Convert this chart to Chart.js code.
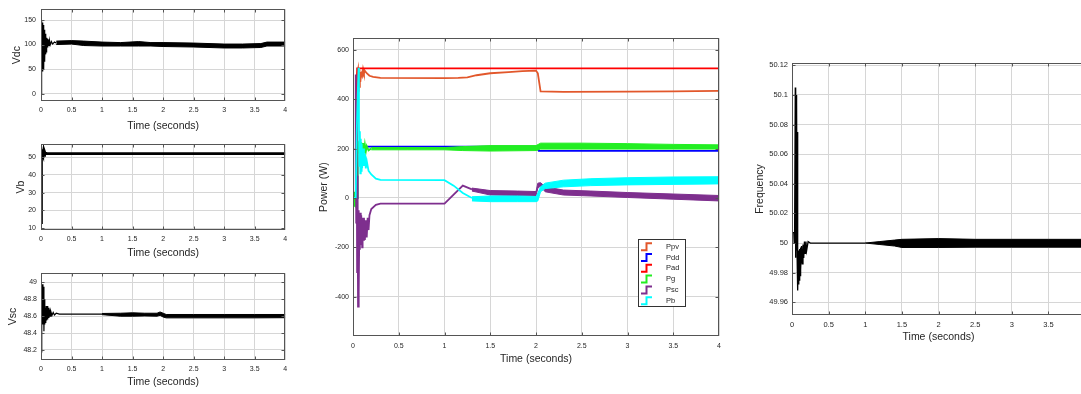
<!DOCTYPE html>
<html><head><meta charset="utf-8">
<script src="https://cdn.jsdelivr.net/npm/chart.js@4.4.1/dist/chart.umd.min.js"></script>
<style>
html,body{margin:0;padding:0;background:#fff;overflow:hidden;width:1081px;height:394px;position:relative}
canvas{position:absolute}
</style></head><body>
<canvas id="cVdc"></canvas>
<canvas id="cVb"></canvas>
<canvas id="cVsc"></canvas>
<canvas id="cPow"></canvas>
<canvas id="cFreq"></canvas>
<script>
// ---------------- DATA ----------------
const timeTicks = [0, 0.5, 1, 1.5, 2, 2.5, 3, 3.5, 4];
const vdcTicks = [0, 50, 100, 150];
const vbTicks = [10, 20, 30, 40, 50];
const vscTicks = [48.2, 48.4, 48.6, 48.8, 49];
const powerTicks = [-400, -200, 0, 200, 400, 600];
const freqTicks = [49.96, 49.98, 50, 50.02, 50.04, 50.06, 50.08, 50.1, 50.12];

// Vdc
const vdcTime  = [0, 0.004, 0.008, 0.012, 0.016, 0.02, 0.024, 0.028, 0.032, 0.036, 0.04, 0.044, 0.048, 0.052, 0.056, 0.06, 0.065, 0.07, 0.075, 0.08, 0.085, 0.09, 0.095, 0.1, 0.11, 0.12, 0.13, 0.14, 0.15, 0.17, 0.19, 0.22, 0.25];
const vdcValue = [0, 150, 5, 148, 40, 145, 48, 142, 45, 140, 55, 135, 50, 130, 65, 126, 70, 122, 80, 118, 85, 114, 90, 112, 94, 110, 97, 108, 99, 106, 101, 105, 103];
const vdcBandTime = [0.25, 0.5, 0.7, 1.0, 1.3, 1.6, 1.8, 2.0, 2.5, 3.0, 3.3, 3.6, 3.7, 4.0];
const vdcBandHigh = [107, 108, 107, 105, 104, 106, 104, 104, 103, 101, 101, 102, 105, 105];
const vdcBandLow  = [100, 101, 98, 97, 97, 97, 97, 96, 95, 93, 93, 94, 97, 97];

// Vb
const vbTime  = [0, 0.006, 0.012, 0.02, 0.03, 0.04, 0.05, 0.06, 0.07, 0.08, 0.1, 4.0];
const vbValue = [13, 51, 51.5, 52.5, 51.5, 53.5, 51, 53, 52, 52.2, 52, 52];

// Vsc
const vscTime  = [0, 0.008, 0.016, 0.025, 0.032, 0.04, 0.048, 0.055, 0.062, 0.07, 0.078, 0.085, 0.093, 0.1, 0.11, 0.12, 0.13, 0.14, 0.15, 0.16, 0.18, 0.2, 0.22, 0.25, 0.3, 1.0];
const vscValue = [48.6, 48.17, 48.55, 48.98, 48.5, 48.95, 48.42, 48.8, 48.5, 48.7, 48.52, 48.72, 48.55, 48.72, 48.56, 48.7, 48.58, 48.68, 48.6, 48.66, 48.61, 48.645, 48.615, 48.635, 48.625, 48.625];
const vscBandTime = [1.0, 1.3, 1.5, 1.7, 1.9, 1.95, 2.0, 2.05, 2.5, 3.0, 3.5, 4.0];
const vscBandHigh = [48.632, 48.635, 48.64, 48.635, 48.635, 48.65, 48.635, 48.62, 48.62, 48.62, 48.62, 48.62];
const vscBandLow  = [48.618, 48.6, 48.6, 48.603, 48.6, 48.61, 48.59, 48.58, 48.58, 48.58, 48.58, 48.582];

// Power
const powerLabels = ['Ppv', 'Pdd', 'Pad', 'Pg', 'Psc', 'Pb'];
const ppvTime  = [0, 0.04, 0.045, 0.055, 0.06, 0.065, 0.07, 0.075, 0.08, 0.09, 0.1, 0.11, 0.12, 0.13, 0.15, 0.18, 0.22, 0.3, 1.0, 1.15, 1.25, 1.35, 1.5, 1.7, 1.85, 2.0, 2.02, 2.05, 2.3, 3.0, 3.5, 4.0];
const ppvValue = [0, 0, 500, 520, 430, 515, 450, 510, 470, 505, 495, 522, 505, 515, 505, 495, 490, 486, 485, 486, 488, 497, 505, 510, 514, 516, 505, 432, 430, 431, 432, 434];
const pddTime  = [0, 0.045, 0.05, 0.1, 0.15, 2.0, 2.03, 4.0];
const pddValue = [0, 0, 210, 205, 208, 208, 191, 191];
const padTime  = [0, 0.04, 0.045, 4.0];
const padValue = [0, 0, 525, 525];
const pgTime  = [0, 0.01, 0.02, 0.03, 0.04, 0.045, 0.05, 0.06, 0.07, 0.08, 0.09, 0.1, 0.11, 0.12, 0.13, 0.14, 0.15, 0.17, 0.2];
const pgValue = [0, -35, 25, -38, 20, 0, 230, 180, 232, 178, 225, 180, 222, 182, 215, 188, 210, 193, 200];
const pgBandTime = [0.2, 0.6, 1.0, 1.2, 1.5, 2.0, 2.05, 2.5, 3.0, 3.5, 4.0];
const pgBandHigh = [204, 204, 204, 208, 212, 212, 222, 222, 220, 217, 215];
const pgBandLow  = [195, 195, 195, 192, 190, 192, 198, 198, 198, 198, 198];
const pscTime  = [0, 0.025, 0.03, 0.035, 0.04, 0.045, 0.05, 0.055, 0.06, 0.065, 0.07, 0.075, 0.08, 0.085, 0.09, 0.1, 0.105, 0.11, 0.12, 0.13, 0.14, 0.15, 0.16, 0.17, 0.18, 0.2, 0.25, 0.3, 1.0, 1.2, 1.3];
const pscValue = [0, 0, 500, -100, 300, -300, 90, -440, -50, -380, -100, -210, -60, -190, -70, -200, -80, -170, -80, -170, -90, -160, -80, -130, -70, -45, -28, -23, -23, 50, 35];
const pscBandTime = [1.3, 1.5, 1.8, 2.0, 2.02, 2.05, 2.1, 2.3, 2.6, 3.0, 3.5, 4.0];
const pscBandHigh = [40, 30, 28, 26, 60, 62, 45, 32, 28, 22, 16, 10];
const pscBandLow  = [28, 12, 10, 8, 40, 48, 25, 12, 8, 2, -5, -12];
const pbTime  = [0, 0.03, 0.04, 0.05, 0.06, 0.065, 0.07, 0.075, 0.08, 0.085, 0.09, 0.095, 0.1, 0.11, 0.12, 0.13, 0.14, 0.15, 0.17, 0.2, 0.25, 0.3, 1.0, 1.1, 1.2, 1.3];
const pbValue = [0, 0, 250, 400, 527, 300, 130, 270, 100, 240, 110, 220, 120, 200, 130, 180, 120, 150, 110, 95, 78, 73, 72, 50, 20, 0];
const pbBandTime = [1.3, 1.5, 1.8, 2.0, 2.02, 2.05, 2.1, 2.3, 2.6, 3.0, 3.5, 4.0];
const pbBandHigh = [5, 8, 8, 6, 20, 45, 60, 72, 78, 82, 85, 86];
const pbBandLow  = [-12, -15, -15, -15, -12, 25, 38, 45, 50, 53, 55, 57];

// Frequency
const freqTime  = [0, 0.01, 0.03, 0.035, 0.045, 0.05, 0.055, 0.06, 0.065, 0.07, 0.075, 0.08, 0.085, 0.09, 0.095, 0.1, 0.105, 0.11, 0.115, 0.12, 0.13, 0.14, 0.15, 0.16, 0.17, 0.18, 0.19, 0.2, 0.22, 0.25, 1.0];
const freqValue = [50, 50.007, 50.007, 50.0, 50.105, 49.99, 50.1, 49.995, 50.095, 49.99, 50.075, 49.968, 49.995, 49.972, 49.995, 49.975, 49.996, 49.978, 49.997, 49.982, 49.998, 49.986, 49.999, 49.99, 50.001, 49.993, 50.001, 49.995, 50.001, 50.0, 50.0];
const freqBandTime = [1.0, 1.2, 1.4, 1.5, 2.0, 2.5, 3.0, 3.5, 4.0];
const freqBandHigh = [50.0, 50.001, 50.002, 50.0025, 50.003, 50.0025, 50.0025, 50.0025, 50.0025];
const freqBandLow  = [50.0, 49.999, 49.998, 49.997, 49.997, 49.9972, 49.9972, 49.9972, 49.9972];

// ---------------- STYLE ----------------
const FONT = '"Liberation Sans", Arial, Helvetica, sans-serif';
const TEXT = '#262626';
const GRID = '#d6d6d6';
const BOX = '#555555';
const COL = {Ppv: '#e2572b', Pdd: '#0000ff', Pad: '#ff0000', Pg: '#22ee22', Psc: '#7e2f8e', Pb: '#00ffff'};

function pts(t, v) { return t.map((x, i) => ({x: x, y: v[i]})); }
function lineDs(label, t, v, color, width, order) {
  return {label, data: pts(t, v), borderColor: color, backgroundColor: color, borderWidth: width,
          pointRadius: 0, fill: false, tension: 0, order: order || 0, borderJoinStyle: 'miter'};
}
function bandDs(label, t, hi, lo, color, order) {
  return [
    {label: label, data: pts(t, hi), borderColor: color, borderWidth: 1, pointRadius: 0, fill: false, tension: 0, order: order || 0},
    {label: label, data: pts(t, lo), borderColor: color, backgroundColor: color, borderWidth: 1, pointRadius: 0, fill: '-1', tension: 0, order: order || 0}
  ];
}
function fmt(v) { return String(Math.round(v * 1000) / 1000); }

const boxPlugin = {
  id: 'matlabBox',
  afterDatasetsDraw(chart) {
    const {ctx, chartArea: a, scales} = chart;
    const L = Math.round(a.left) + 0.5, T = Math.round(a.top) + 0.5;
    const R = Math.round(a.right) - 0.5, B = Math.round(a.bottom) - 0.5;
    ctx.save();
    ctx.strokeStyle = BOX; ctx.lineWidth = 1;
    ctx.strokeRect(L, T, R - L, B - T);
    ctx.beginPath();
    scales.x.ticks.forEach(tk => {
      const p = Math.round(scales.x.getPixelForValue(tk.value)) + 0.5;
      if (p < L || p > R) return;
      ctx.moveTo(p, B); ctx.lineTo(p, B - 3);
      ctx.moveTo(p, T); ctx.lineTo(p, T + 3);
    });
    scales.y.ticks.forEach(tk => {
      const p = Math.round(scales.y.getPixelForValue(tk.value)) + 0.5;
      if (p < T || p > B) return;
      ctx.moveTo(L, p); ctx.lineTo(L + 3, p);
      ctx.moveTo(R, p); ctx.lineTo(R - 3, p);
    });
    ctx.stroke();
    ctx.restore();
  }
};

function makeChart(id, g, o) {
  const cv = document.getElementById(id);
  cv.width = g.w; cv.height = g.h;
  cv.style.left = g.left + 'px'; cv.style.top = g.top + 'px';
  cv.style.width = g.w + 'px'; cv.style.height = g.h + 'px';
  const yW = g.pl - g.left, xH = g.top + g.h - g.pb;
  const tickFont = {family: FONT, size: o.tickSize || 7};
  const titleFont = {family: FONT, size: o.titleSize || 10.5};
  return new Chart(cv, {
    type: 'line',
    data: {datasets: o.datasets},
    options: {
      responsive: false, animation: false, events: [], devicePixelRatio: 1,
      layout: {padding: {left: 0, top: g.pt - g.top, right: g.left + g.w - g.pr, bottom: 0}},
      plugins: {legend: {display: false}, tooltip: {enabled: false}},
      scales: {
        x: {
          type: 'linear', min: 0, max: 4,
          afterFit: s => { s.height = xH; },
          afterBuildTicks: s => { s.ticks = timeTicks.map(v => ({value: v})); },
          grid: {color: GRID, drawTicks: false, lineWidth: 1},
          border: {display: false},
          ticks: {font: tickFont, color: TEXT, padding: o.xTickPad, maxRotation: 0, autoSkip: false, callback: v => fmt(v)},
          title: {display: true, text: 'Time (seconds)', font: titleFont, color: TEXT, padding: {top: 0, bottom: o.xTitlePad}}
        },
        y: {
          type: 'linear', min: o.yMin, max: o.yMax,
          afterFit: s => { s.width = yW; },
          afterBuildTicks: s => { s.ticks = o.yTicks.map(v => ({value: v})); },
          grid: {color: GRID, drawTicks: false, lineWidth: 1},
          border: {display: false},
          ticks: {font: tickFont, color: TEXT, padding: o.yTickPad, autoSkip: false, callback: v => fmt(v)},
          title: {display: true, text: o.yTitle, font: titleFont, color: TEXT, padding: {top: o.yTitlePad, bottom: 0}}
        }
      }
    },
    plugins: [boxPlugin].concat(o.plugins || [])
  });
}

// Vdc
makeChart('cVdc', {left: 0, top: 0, w: 292, h: 138, pl: 41, pt: 6, pr: 286, pb: 101}, {
  datasets: [lineDs('Vdc', vdcTime, vdcValue, '#000', 1.2)].concat(bandDs('Vdc', vdcBandTime, vdcBandHigh, vdcBandLow, '#000')),
  yMin: -15, yMax: 172, yTicks: vdcTicks, yTitle: 'Vdc', yTitlePad: 11.2, xTitlePad: 6, xTickPad: 4.8, yTickPad: 5
});
// Vb
makeChart('cVb', {left: 0, top: 135, w: 292, h: 130, pl: 41, pt: 140, pr: 286, pb: 230}, {
  datasets: [lineDs('Vb', vbTime, vbValue, '#000', 2.6)],
  yMin: 8.9, yMax: 57.3, yTicks: vbTicks, yTitle: 'Vb', yTitlePad: 14.7, xTitlePad: 5.4, xTickPad: 4.8, yTickPad: 5
});
// Vsc
makeChart('cVsc', {left: 0, top: 265, w: 292, h: 129, pl: 41, pt: 270, pr: 286, pb: 360}, {
  datasets: [lineDs('Vsc', vscTime, vscValue, '#000', 1.2)].concat(bandDs('Vsc', vscBandTime, vscBandHigh, vscBandLow, '#000')),
  yMin: 48.08, yMax: 49.11, yTicks: vscTicks, yTitle: 'Vsc', yTitlePad: 6.7, xTitlePad: 5.4, xTickPad: 4.8, yTickPad: 4
});

// Power legend plugin (stairs icons inside plot)
const powLegend = {
  id: 'powLegend',
  afterDraw(chart) {
    const ctx = chart.ctx;
    const x0 = 338, y0 = 209, w = 47, h = 67;
    ctx.save();
    ctx.fillStyle = '#fff';
    ctx.fillRect(x0, y0, w, h);
    ctx.strokeStyle = '#333'; ctx.lineWidth = 1;
    ctx.strokeRect(x0 + 0.5, y0 + 0.5, w, h);
    ctx.font = '7.5px ' + FONT;
    ctx.textBaseline = 'middle';
    ctx.textAlign = 'left';
    powerLabels.forEach((lab, i) => {
      const cy = 216.7 + i * 10.8;
      ctx.strokeStyle = COL[lab]; ctx.lineWidth = 2;
      ctx.beginPath();
      ctx.moveTo(341, cy + 3.5); ctx.lineTo(346.5, cy + 3.5); ctx.lineTo(346.5, cy - 3.5); ctx.lineTo(352, cy - 3.5);
      ctx.stroke();
      ctx.fillStyle = TEXT;
      ctx.fillText(lab, 366, cy);
    });
    ctx.restore();
  }
};

makeChart('cPow', {left: 300, top: 30, w: 430, h: 340, pl: 353, pt: 37, pr: 719, pb: 336}, {
  datasets: [
    lineDs('Pb', pbTime, pbValue, COL.Pb, 1.8, 1), ...bandDs('Pb', pbBandTime, pbBandHigh, pbBandLow, COL.Pb, 1),
    lineDs('Psc', pscTime, pscValue, COL.Psc, 1.8, 2), ...bandDs('Psc', pscBandTime, pscBandHigh, pscBandLow, COL.Psc, 2),
    lineDs('Pg', pgTime, pgValue, COL.Pg, 1.8, 3), ...bandDs('Pg', pgBandTime, pgBandHigh, pgBandLow, COL.Pg, 3),
    lineDs('Pad', padTime, padValue, COL.Pad, 1.8, 4),
    lineDs('Pdd', pddTime, pddValue, COL.Pdd, 1.8, 5),
    lineDs('Ppv', ppvTime, ppvValue, COL.Ppv, 1.8, 6)
  ],
  yMin: -559, yMax: 647, yTicks: powerTicks, yTitle: 'Power (W)', yTitlePad: 17.7, xTitlePad: 4.7, xTickPad: 5.5, yTickPad: 4,
  plugins: [powLegend]
});

// Frequency
makeChart('cFreq', {left: 740, top: 50, w: 360, h: 300, pl: 792, pt: 63, pr: 1085, pb: 315}, {
  datasets: [lineDs('Frequency', freqTime, freqValue, '#000', 1.3)].concat(bandDs('Frequency', freqBandTime, freqBandHigh, freqBandLow, '#000')),
  yMin: 49.9514, yMax: 50.1216, yTicks: freqTicks, yTitle: 'Frequency', yTitlePad: 13.7, xTitlePad: 6.7, xTickPad: 5.5, yTickPad: 4,
  tickSize: 7.5
});
</script>
</body></html>
